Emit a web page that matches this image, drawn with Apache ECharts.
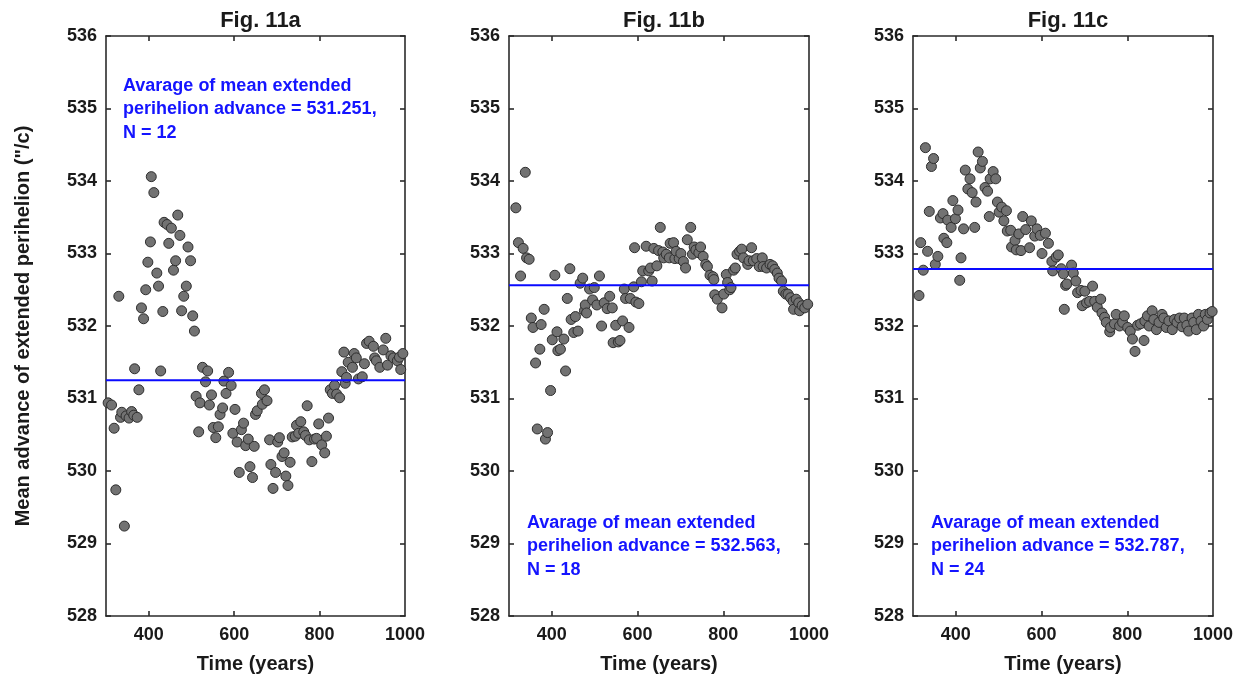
<!DOCTYPE html>
<html>
<head>
<meta charset="utf-8">
<script src="https://cdn.jsdelivr.net/npm/echarts/dist/echarts.min.js"></script>
<style>
html,body{margin:0;padding:0;background:#fff;}
#chart{width:1246px;height:682px;}
</style>
</head>
<body>
<div id="chart"></div>
<script>
// ---------- data ----------
const panelTitles = ['Fig. 11a', 'Fig. 11b', 'Fig. 11c'];
const meanValues = [531.251, 532.563, 532.787];
const nValues = [12, 18, 24];
const xTickValues = [400, 600, 800];
const xLabelValues = [400, 600, 800, 1000];
const yTickValues = [528, 529, 530, 531, 532, 533, 534, 535, 536];

const timeA = [305,313,319,323,330,334,337,343,347,354,360,365,367,373,377,383,388,393,398,404,406,412,419,423,428,433,436,443,447,453,458,463,468,473,477,482,488,492,498,503,507,511,517,520,526,533,538,542,547,551,557,563,567,573,576,581,587,593,597,602,607,612,617,622,627,633,637,643,647,650,654,664,666,671,677,683,686,691,697,702,706,712,717,721,726,731,736,743,746,751,756,763,767,771,776,782,788,793,798,805,812,816,821,825,830,835,840,847,852,857,860,863,867,877,881,886,891,900,905,910,916,926,929,933,941,949,955,959,967,973,982,987,990,995];
const valueA = [530.94,530.91,530.59,529.74,532.41,530.74,530.81,529.24,530.76,530.73,530.82,530.77,531.41,530.74,531.12,532.25,532.10,532.50,532.88,533.16,534.06,533.84,532.73,532.55,531.38,532.20,533.43,533.40,533.14,533.35,532.77,532.90,533.53,533.25,532.21,532.41,532.55,533.09,532.90,532.14,531.93,531.03,530.54,530.94,531.43,531.23,531.38,530.91,531.05,530.60,530.46,530.61,530.78,530.87,531.24,531.07,531.36,531.18,530.52,530.85,530.40,529.98,530.57,530.66,530.35,530.44,530.06,529.91,530.34,530.78,530.83,531.07,530.92,531.12,530.97,530.43,530.09,529.76,529.98,530.40,530.46,530.20,530.25,529.93,529.80,530.12,530.47,530.48,530.63,530.52,530.68,530.54,530.49,530.90,530.43,530.13,530.44,530.45,530.65,530.36,530.25,530.48,530.73,531.12,531.07,531.18,531.06,531.01,531.37,531.64,531.21,531.29,531.50,531.43,531.62,531.56,531.27,531.30,531.48,531.76,531.79,531.72,531.56,531.52,531.43,531.67,531.83,531.46,531.59,531.56,531.52,531.57,531.40,531.62];

const timeB = [316,322,327,333,338,341,347,352,356,362,366,372,375,382,385,390,397,401,407,412,414,420,428,432,436,442,445,451,455,461,466,472,476,478,481,488,495,499,505,511,516,522,529,535,541,543,549,555,559,565,569,572,580,583,591,593,596,603,609,612,620,626,630,634,638,645,649,653,659,661,667,674,676,684,687,690,697,701,707,712,716,724,728,732,736,743,747,753,759,763,769,776,778,780,786,797,801,807,810,815,818,824,828,832,838,843,847,857,860,866,870,878,884,891,893,901,909,915,920,926,930,936,940,946,951,957,963,964,970,976,978,984,990,997];
const valueB = [533.63,533.15,532.69,533.07,534.12,532.94,532.92,532.11,531.98,531.49,530.58,531.68,532.02,532.23,530.44,530.53,531.11,531.81,532.70,531.92,531.66,531.68,531.82,531.38,532.38,532.79,532.09,531.91,532.13,531.93,532.59,532.66,532.21,532.29,532.18,532.51,532.36,532.53,532.29,532.69,532.00,532.32,532.24,532.41,532.25,531.77,532.01,531.78,531.80,532.07,532.51,532.38,531.98,532.38,532.54,533.08,532.33,532.31,532.61,532.76,533.10,532.76,532.80,532.62,533.07,532.83,533.04,533.36,533.02,532.94,532.99,532.94,533.14,533.15,532.93,533.03,532.93,533.00,532.89,532.80,533.19,533.36,532.99,533.09,533.05,533.01,533.09,532.96,532.85,532.82,532.70,532.68,532.64,532.43,532.37,532.25,532.44,532.71,532.60,532.50,532.53,532.77,532.80,532.99,533.03,533.06,532.94,532.85,532.90,533.08,532.90,532.93,532.82,532.94,532.82,532.80,532.85,532.83,532.78,532.73,532.66,532.62,532.48,532.44,532.44,532.39,532.34,532.23,532.37,532.32,532.21,532.28,532.25,532.30];

const timeC = [314,318,324,329,334,338,343,348,352,358,364,370,372,379,381,389,393,399,405,409,412,418,422,428,433,438,444,447,452,457,462,468,474,478,480,487,493,497,501,507,512,518,520,528,530,538,541,547,552,556,563,572,576,584,589,597,601,609,616,624,626,634,639,646,651,653,656,659,670,674,680,684,692,695,701,705,712,719,724,730,738,741,747,751,759,761,770,774,782,789,793,801,807,812,818,824,831,839,841,847,851,858,862,868,874,881,885,891,897,905,910,916,922,928,933,939,943,951,955,961,966,972,978,982,987,993,998];
const valueC = [532.42,533.15,532.77,534.46,533.03,533.58,534.20,534.31,532.85,532.96,533.49,533.55,533.21,533.15,533.46,533.36,533.73,533.48,533.60,532.63,532.94,533.34,534.15,533.89,534.03,533.84,533.36,533.71,534.40,534.18,534.27,533.91,533.86,533.51,534.03,534.13,534.03,533.71,533.57,533.64,533.45,533.59,533.31,533.32,533.09,533.18,533.05,533.27,533.04,533.51,533.33,533.08,533.45,533.24,533.34,533.25,533.00,533.28,533.14,532.89,532.76,532.95,532.98,532.79,532.72,532.23,532.56,532.58,532.84,532.73,532.62,532.46,532.49,532.28,532.48,532.32,532.34,532.55,532.34,532.26,532.37,532.18,532.12,532.05,531.92,531.98,532.03,532.16,532.00,532.05,532.14,531.98,531.93,531.82,531.65,532.01,532.03,531.80,532.07,532.14,532.00,532.21,532.09,531.95,532.05,532.16,532.11,531.98,532.07,531.95,532.09,532.05,532.11,531.99,532.11,532.01,531.93,532.11,532.05,531.95,532.16,532.07,532.00,532.16,532.09,532.18,532.20];

// ---------- chart ----------
const times = [timeA, timeB, timeC];
const values = [valueA, valueB, valueC];

const FONT = '"Liberation Sans", Arial, sans-serif';
const axisColor = '#2b2b2b';
const lineStyle = { color: axisColor, width: 1.6 };

const gridBox = [
  { left: 106, right: 841, top: 36, bottom: 66 },
  { left: 509, right: 437, top: 36, bottom: 66 },
  { left: 913, right: 33, top: 36, bottom: 66 }
];
const textBox = [
  { left: 123, top: 74 },
  { left: 527, top: 511 },
  { left: 931, top: 511 }
];

const grids = [], xAxes = [], yAxes = [], series = [], titles = [], graphics = [];

for (let i = 0; i < 3; i++) {
  grids.push(Object.assign({ containLabel: false }, gridBox[i]));
  const leftPx = gridBox[i].left;
  const rightPx = 1246 - gridBox[i].right;
  titles.push({
    text: panelTitles[i], left: (leftPx + rightPx) / 2, top: 5, textAlign: 'center',
    textStyle: { fontFamily: FONT, fontSize: 22, fontWeight: 'bold', color: '#1a1a1a' }
  });
  // bottom x
  xAxes.push({
    gridIndex: i, type: 'value', min: 300, max: 1000, position: 'bottom',
    axisLine: { show: true, onZero: false, lineStyle },
    axisTick: { show: true, inside: true, length: 5, customValues: xTickValues, lineStyle },
    axisLabel: { customValues: xLabelValues, formatter: v => String(v), fontFamily: FONT, fontSize: 18, fontWeight: 'bold', color: '#1a1a1a', margin: 10 },
    splitLine: { show: false },
    name: 'Time (years)', nameLocation: 'middle', nameGap: 38,
    nameTextStyle: { fontFamily: FONT, fontSize: 20, fontWeight: 'bold', color: '#1a1a1a' }
  });
  // top x (mirror)
  xAxes.push({
    gridIndex: i, type: 'value', min: 300, max: 1000, position: 'top',
    axisLine: { show: true, onZero: false, lineStyle },
    axisTick: { show: true, inside: true, length: 5, customValues: xTickValues, lineStyle },
    axisLabel: { show: false }, splitLine: { show: false }
  });
  // left y
  const yLeft = {
    gridIndex: i, type: 'value', min: 528, max: 536, interval: 1, position: 'left',
    axisLine: { show: true, onZero: false, lineStyle },
    axisTick: { show: true, inside: true, length: 5, lineStyle },
    axisLabel: { formatter: v => String(v), fontFamily: FONT, fontSize: 18, fontWeight: 'bold', color: '#1a1a1a', margin: 9 },
    splitLine: { show: false }
  };
  if (i === 0) {
    yLeft.name = 'Mean advance of extended perihelion ("/c)';
    yLeft.nameLocation = 'middle';
    yLeft.nameGap = 73;
    yLeft.nameTextStyle = { fontFamily: FONT, fontSize: 20, fontWeight: 'bold', color: '#1a1a1a' };
  }
  yAxes.push(yLeft);
  // right y (mirror)
  yAxes.push({
    gridIndex: i, type: 'value', min: 528, max: 536, interval: 1, position: 'right',
    axisLine: { show: true, onZero: false, lineStyle },
    axisTick: { show: true, inside: true, length: 5, lineStyle },
    axisLabel: { show: false }, splitLine: { show: false }
  });

  const pts = times[i].map((t, k) => [t, values[i][k]]);
  series.push({
    type: 'scatter', xAxisIndex: 2 * i, yAxisIndex: 2 * i, data: pts,
    symbol: 'circle', symbolSize: 10, z: 2,
    itemStyle: { color: '#727272', borderColor: '#2e2e2e', borderWidth: 1, opacity: 1 },
    emphasis: { disabled: true }, silent: true
  });
  series.push({
    type: 'line', xAxisIndex: 2 * i, yAxisIndex: 2 * i,
    data: [[300, meanValues[i]], [1000, meanValues[i]]],
    symbol: 'none', z: 3, silent: true,
    lineStyle: { color: '#0a0aff', width: 2 }
  });
  graphics.push({
    type: 'text', left: textBox[i].left, top: textBox[i].top, z: 10,
    style: {
      text: 'Avarage of mean extended\nperihelion advance = ' + meanValues[i].toFixed(3) + ',\nN = ' + nValues[i],
      fill: '#1414ff', fontFamily: FONT, fontSize: 18, fontWeight: 'bold', lineHeight: 23.5
    }
  });
}

const chart = echarts.init(document.getElementById('chart'), null, { renderer: 'canvas' });
chart.setOption({
  backgroundColor: '#ffffff',
  animation: false,
  title: titles,
  grid: grids,
  xAxis: xAxes,
  yAxis: yAxes,
  series: series,
  graphic: graphics
});
</script>
</body>
</html>
